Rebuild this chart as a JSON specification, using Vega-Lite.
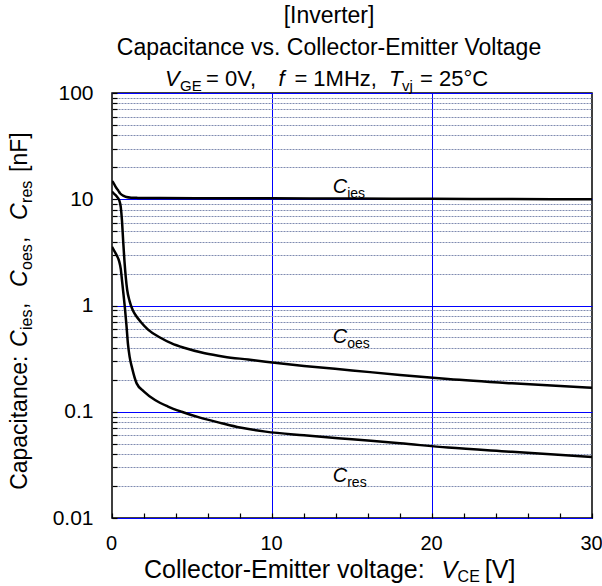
{
  "$schema": "https://vega.github.io/schema/vega-lite/v6.json",
  "width": 480,
  "height": 425,
  "autosize": {"type": "none"},
  "padding": {"left": 112, "top": 93, "right": 10, "bottom": 68},
  "background": "white",
  "config": {
    "view": {"stroke": "black", "strokeWidth": 1.5},
    "font": "Liberation Sans",
    "text": {"font": "Liberation Sans", "color": "black"}
  },
  "title": {
    "text": ["[Inverter]", "Capacitance vs. Collector-Emitter Voltage"],
    "frame": "group",
    "anchor": "middle",
    "dx": -23,
    "offset": 8,
    "font": "Liberation Sans",
    "fontSize": 23,
    "fontWeight": "normal",
    "color": "black",
    "lineHeight": 32
  },
  "datasets": {
    "curves": [
      {"series": "Cies", "v": 0, "c": 14.8}, {"series": "Cies", "v": 0.1, "c": 14.2}, {"series": "Cies", "v": 0.2, "c": 13.3},
      {"series": "Cies", "v": 0.3, "c": 12.6}, {"series": "Cies", "v": 0.4, "c": 12.0}, {"series": "Cies", "v": 0.5, "c": 11.4},
      {"series": "Cies", "v": 0.7, "c": 10.8}, {"series": "Cies", "v": 0.9, "c": 10.5}, {"series": "Cies", "v": 1.2, "c": 10.35},
      {"series": "Cies", "v": 1.6, "c": 10.3}, {"series": "Cies", "v": 3, "c": 10.25}, {"series": "Cies", "v": 6, "c": 10.22},
      {"series": "Cies", "v": 10, "c": 10.2}, {"series": "Cies", "v": 15, "c": 10.15}, {"series": "Cies", "v": 20, "c": 10.1},
      {"series": "Cies", "v": 25, "c": 10.05}, {"series": "Cies", "v": 30, "c": 10.0},
      {"series": "Coes", "v": 0, "c": 11.8}, {"series": "Coes", "v": 0.15, "c": 11.2}, {"series": "Coes", "v": 0.3, "c": 10.6},
      {"series": "Coes", "v": 0.45, "c": 9.8}, {"series": "Coes", "v": 0.55, "c": 8.4}, {"series": "Coes", "v": 0.62, "c": 6.4},
      {"series": "Coes", "v": 0.7, "c": 4.0}, {"series": "Coes", "v": 0.78, "c": 2.6}, {"series": "Coes", "v": 0.86, "c": 1.85},
      {"series": "Coes", "v": 0.95, "c": 1.4}, {"series": "Coes", "v": 1.1, "c": 1.1}, {"series": "Coes", "v": 1.3, "c": 0.9},
      {"series": "Coes", "v": 1.5, "c": 0.8}, {"series": "Coes", "v": 1.8, "c": 0.7}, {"series": "Coes", "v": 2.27, "c": 0.59},
      {"series": "Coes", "v": 3, "c": 0.5}, {"series": "Coes", "v": 3.73, "c": 0.44}, {"series": "Coes", "v": 4.5, "c": 0.4},
      {"series": "Coes", "v": 5.8, "c": 0.355}, {"series": "Coes", "v": 7, "c": 0.33}, {"series": "Coes", "v": 8.5, "c": 0.31},
      {"series": "Coes", "v": 9.6, "c": 0.296}, {"series": "Coes", "v": 12, "c": 0.27}, {"series": "Coes", "v": 15, "c": 0.245},
      {"series": "Coes", "v": 18, "c": 0.222}, {"series": "Coes", "v": 21, "c": 0.203}, {"series": "Coes", "v": 25, "c": 0.185},
      {"series": "Coes", "v": 30, "c": 0.168},
      {"series": "Cres", "v": 0, "c": 3.57}, {"series": "Cres", "v": 0.15, "c": 3.25}, {"series": "Cres", "v": 0.3, "c": 2.95},
      {"series": "Cres", "v": 0.45, "c": 2.6}, {"series": "Cres", "v": 0.55, "c": 2.2}, {"series": "Cres", "v": 0.62, "c": 1.75},
      {"series": "Cres", "v": 0.7, "c": 1.35}, {"series": "Cres", "v": 0.8, "c": 0.97}, {"series": "Cres", "v": 0.9, "c": 0.66},
      {"series": "Cres", "v": 1.0, "c": 0.43}, {"series": "Cres", "v": 1.1, "c": 0.33}, {"series": "Cres", "v": 1.25, "c": 0.26},
      {"series": "Cres", "v": 1.54, "c": 0.185}, {"series": "Cres", "v": 2, "c": 0.155}, {"series": "Cres", "v": 2.69, "c": 0.129},
      {"series": "Cres", "v": 3.5, "c": 0.112}, {"series": "Cres", "v": 4.35, "c": 0.1}, {"series": "Cres", "v": 5.5, "c": 0.088},
      {"series": "Cres", "v": 6.85, "c": 0.078}, {"series": "Cres", "v": 8, "c": 0.071}, {"series": "Cres", "v": 9.6, "c": 0.065},
      {"series": "Cres", "v": 12, "c": 0.06}, {"series": "Cres", "v": 15, "c": 0.055}, {"series": "Cres", "v": 18, "c": 0.0505},
      {"series": "Cres", "v": 21, "c": 0.046}, {"series": "Cres", "v": 25, "c": 0.042}, {"series": "Cres", "v": 30, "c": 0.0375}
    ],
    "curveC": [
      {"t": "C", "v": 13.8, "c": 11.5},
      {"t": "C", "v": 13.8, "c": 0.44},
      {"t": "C", "v": 13.8, "c": 0.0218}
    ],
    "curveSub": [
      {"t": "ies", "v": 14.7, "c": 11.5},
      {"t": "oes", "v": 14.7, "c": 0.44},
      {"t": "res", "v": 14.7, "c": 0.0218}
    ],
    "tItalic": [
      {"t": "V", "v": 3.31, "c": 116.4},
      {"t": "f", "v": 10.4, "c": 116.4},
      {"t": "T", "v": 17.31, "c": 116.4}
    ],
    "tSub": [
      {"t": "GE", "v": 4.25, "c": 116.4},
      {"t": "vj", "v": 18.13, "c": 116.4}
    ],
    "tPlain": [
      {"t": "= 0V,", "v": 5.88, "c": 116.4},
      {"t": "= 1MHz,", "v": 11.4, "c": 116.4},
      {"t": "= 25°C", "v": 19.25, "c": 116.4}
    ],
    "xItalic": [
      {"t": "V", "v": 20.6, "c": 0.00272}
    ],
    "xSub": [
      {"t": "CE", "v": 21.6, "c": 0.00272}
    ],
    "xPlain": [
      {"t": "Collector-Emitter voltage:", "v": 2.0, "c": 0.00272},
      {"t": "[V]", "v": 23.3, "c": 0.00272}
    ],
    "rItalic": [
      {"t": "C", "v": -5.31, "c": 0.406},
      {"t": "C", "v": -5.31, "c": 1.49},
      {"t": "C", "v": -5.31, "c": 6.38}
    ],
    "rSub": [
      {"t": "ies", "v": -5.31, "c": 0.588},
      {"t": "oes", "v": -5.31, "c": 2.16},
      {"t": "res", "v": -5.31, "c": 9.23}
    ],
    "rPlain": [
      {"t": "Capacitance:", "v": -5.31, "c": 0.0184},
      {"t": ",", "v": -5.31, "c": 0.927},
      {"t": ",", "v": -5.31, "c": 3.87},
      {"t": "[nF]", "v": -5.31, "c": 18.05}
    ]
  },
  "encoding": {
    "x": {
      "field": "v",
      "type": "quantitative",
      "scale": {"domain": [0, 30], "nice": false, "zero": false},
      "axis": {
        "title": null,
        "values": [0, 2, 4, 6, 8, 10, 12, 14, 16, 18, 20, 22, 24, 26, 28, 30],
        "labelExpr": "datum.value % 10 == 0 ? datum.label : ''",
        "labelFont": "Liberation Sans",
        "labelFontSize": 20,
        "labelColor": "black",
        "labelPadding": 20,
        "labelFlush": false,
        "labelOffset": -1,
        "domain": false,
        "tickSize": -5,
        "tickColor": "black",
        "tickWidth": 1.2,
        "grid": true,
        "gridColor": "#0000ff",
        "gridWidth": 1,
        "gridOpacity": {"condition": {"test": "datum.value == 10 || datum.value == 20", "value": 1}, "value": 0}
      }
    },
    "y": {
      "field": "c",
      "type": "quantitative",
      "scale": {"type": "log", "domain": [0.01, 100], "nice": false},
      "axis": {
        "title": null,
        "values": [0.01, 0.02, 0.03, 0.04, 0.05, 0.06, 0.07, 0.08, 0.09, 0.1, 0.2, 0.3, 0.4, 0.5, 0.6, 0.7, 0.8, 0.9, 1, 2, 3, 4, 5, 6, 7, 8, 9, 10, 20, 30, 40, 50, 60, 70, 80, 90, 100],
        "labelExpr": "indexof([0.01, 0.1, 1, 10, 100], datum.value) >= 0 ? format(datum.value, '~g') : ''",
        "labelFont": "Liberation Sans",
        "labelFontSize": 21,
        "labelColor": "black",
        "labelPadding": 24,
        "labelFlush": false,
        "domain": false,
        "tickSize": -5,
        "tickColor": "black",
        "tickWidth": 1.2,
        "grid": true,
        "gridWidth": 1,
        "gridColor": {"condition": {"test": "indexof([0.01, 0.1, 1, 10, 100], datum.value) >= 0", "value": "#0000ff"}, "value": "#7f8bb0"},
        "gridDash": {"condition": {"test": "indexof([0.01, 0.1, 1, 10, 100], datum.value) >= 0", "value": []}, "value": [2, 1]}
      }
    }
  },
  "layer": [
    {
      "data": {"name": "curves"},
      "mark": {"type": "line", "color": "black", "strokeWidth": 2.5, "interpolate": "monotone", "clip": true},
      "encoding": {"detail": {"field": "series", "type": "nominal"}}
    },
    {
      "data": {"name": "curveC"},
      "mark": {"type": "text", "fontStyle": "italic", "fontSize": 20, "align": "left", "baseline": "alphabetic"},
      "encoding": {"text": {"field": "t"}}
    },
    {
      "data": {"name": "curveSub"},
      "mark": {"type": "text", "fontSize": 14, "align": "left", "baseline": "alphabetic", "dy": 5},
      "encoding": {"text": {"field": "t"}}
    },
    {
      "data": {"name": "tItalic"},
      "mark": {"type": "text", "fontStyle": "italic", "fontSize": 22, "align": "left", "baseline": "alphabetic"},
      "encoding": {"text": {"field": "t"}}
    },
    {
      "data": {"name": "tSub"},
      "mark": {"type": "text", "fontSize": 15, "align": "left", "baseline": "alphabetic", "dy": 5},
      "encoding": {"text": {"field": "t"}}
    },
    {
      "data": {"name": "tPlain"},
      "mark": {"type": "text", "fontSize": 22, "align": "left", "baseline": "alphabetic"},
      "encoding": {"text": {"field": "t"}}
    },
    {
      "data": {"name": "xItalic"},
      "mark": {"type": "text", "fontStyle": "italic", "fontSize": 24, "align": "left", "baseline": "alphabetic"},
      "encoding": {"text": {"field": "t"}}
    },
    {
      "data": {"name": "xSub"},
      "mark": {"type": "text", "fontSize": 16, "align": "left", "baseline": "alphabetic", "dy": 4},
      "encoding": {"text": {"field": "t"}}
    },
    {
      "data": {"name": "xPlain"},
      "mark": {"type": "text", "fontSize": 25, "align": "left", "baseline": "alphabetic"},
      "encoding": {"text": {"field": "t"}}
    },
    {
      "data": {"name": "rItalic"},
      "mark": {"type": "text", "fontStyle": "italic", "fontSize": 23, "align": "left", "baseline": "alphabetic", "angle": -90},
      "encoding": {"text": {"field": "t"}}
    },
    {
      "data": {"name": "rSub"},
      "mark": {"type": "text", "fontSize": 16, "align": "left", "baseline": "alphabetic", "angle": -90, "dy": 5},
      "encoding": {"text": {"field": "t"}}
    },
    {
      "data": {"name": "rPlain"},
      "mark": {"type": "text", "fontSize": 23, "align": "left", "baseline": "alphabetic", "angle": -90},
      "encoding": {"text": {"field": "t"}}
    }
  ]
}
